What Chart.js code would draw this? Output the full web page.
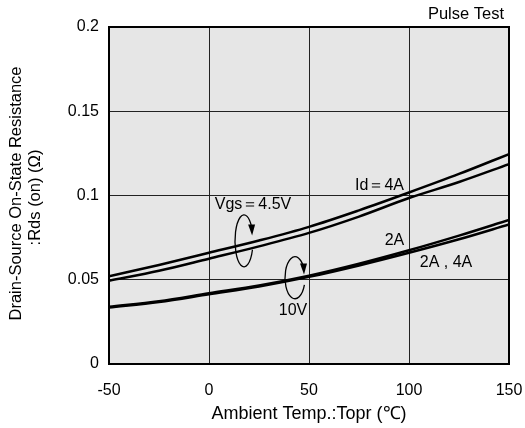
<!DOCTYPE html>
<html>
<head>
<meta charset="utf-8">
<script src="https://cdn.jsdelivr.net/npm/chart.js@4.4.0/dist/chart.umd.min.js"></script>
<style>
html,body{margin:0;padding:0;background:#fff;}
#wrap{width:525px;height:428px;position:relative;}
</style>
</head>
<body>
<div id="wrap"><canvas id="c" width="525" height="428"></canvas></div>
<script>
// Data
const temps = [-50, -25, 0, 25, 50, 75, 100, 125, 150];
const vgs45_id4 = [0.052, 0.0588, 0.066, 0.0733, 0.0814, 0.0912, 0.1018, 0.1128, 0.1246];
const vgs45_id2 = [0.0494, 0.0553, 0.0625, 0.0698, 0.0778, 0.0875, 0.0985, 0.108, 0.1186];
const vgs10_id2 = [0.034, 0.0373, 0.042, 0.0466, 0.0524, 0.0595, 0.0675, 0.0762, 0.0855];
const vgs10_id4 = [0.0335, 0.0368, 0.0414, 0.046, 0.0517, 0.0585, 0.066, 0.074, 0.0828];
const xTicks = [-50, 0, 50, 100, 150];
const yTicks = [0, 0.05, 0.1, 0.15, 0.2];
const yTickLabels = ['0', '0.05', '0.1', '0.15', '0.2'];
const xTitle = 'Ambient Temp.:Topr (\u2103)';
const yTitle = ['Drain-Source On-State Resistance', ':Rds (on) (\u03A9)'];

// annotations in data units
const labels = [
  {text: 'Id\uFF1D4A', x: 85.25, y: 0.1056},
  {text: 'Vgs\uFF1D4.5V', x: 22, y: 0.0944},
  {text: '2A', x: 92.75, y: 0.073},
  {text: '2A , 4A', x: 118.5, y: 0.060},
  {text: '10V', x: 42, y: 0.0317}
];
const arrows = [
  {x: 17.5, y: 0.0731, rx: 9, ry: 26},
  {x: 43, y: 0.0512, rx: 10, ry: 21}
];

const FONT = '"Liberation Sans", Arial, Helvetica, sans-serif';

function mk(data) {
  return {data: temps.map((t, i) => ({x: t, y: data[i]})), borderColor: '#000', borderWidth: 2.5,
    pointRadius: 0, cubicInterpolationMode: 'monotone', fill: false};
}

const deco = {
  id: 'deco',
  beforeDraw(chart) {
    const a = chart.chartArea, ctx = chart.ctx;
    ctx.save();
    ctx.fillStyle = '#e6e6e6';
    ctx.fillRect(a.left, a.top, a.right - a.left, a.bottom - a.top);
    ctx.restore();
  },
  afterDraw(chart) {
    const a = chart.chartArea, ctx = chart.ctx;
    const xs = chart.scales.x, ys = chart.scales.y;
    ctx.save();
    ctx.strokeStyle = '#000';
    ctx.lineWidth = 2;
    ctx.strokeRect(a.left, a.top, a.right - a.left, a.bottom - a.top);
    ctx.fillStyle = '#000';
    ctx.font = '16px ' + FONT;
    ctx.textAlign = 'center';
    ctx.textBaseline = 'middle';
    labels.forEach(l => ctx.fillText(l.text, xs.getPixelForValue(l.x), ys.getPixelForValue(l.y)));
    ctx.textAlign = 'right';
    ctx.font = '16.5px ' + FONT;
    ctx.fillText('Pulse Test', a.right - 5, a.top - 13);
    // y axis title (two lines, rotated)
    ctx.save();
    ctx.font = '16.5px ' + FONT;
    ctx.textAlign = 'center';
    ctx.translate(0, (a.top + a.bottom) / 2 - 2);
    ctx.rotate(-Math.PI / 2);
    ctx.fillText(yTitle[0], 0, 16);
    ctx.fillText(yTitle[1], -4, 35);
    ctx.restore();
    // rotating arrows
    ctx.lineWidth = 1.3;
    arrows.forEach(ar => {
      const cx = xs.getPixelForValue(ar.x), cy = ys.getPixelForValue(ar.y);
      const endA = -0.45 + Math.PI * 2, startA = 0.35;
      ctx.beginPath();
      ctx.ellipse(cx, cy, ar.rx, ar.ry, 0, startA, endA - 0.15);
      ctx.stroke();
      const tx = cx + ar.rx * Math.cos(endA), ty = cy + ar.ry * Math.sin(endA) + 6;
      ctx.beginPath();
      ctx.moveTo(tx, ty);
      ctx.lineTo(tx - 4, ty - 11);
      ctx.lineTo(tx + 3, ty - 11);
      ctx.closePath();
      ctx.fill();
    });
    ctx.restore();
  }
};

new Chart(document.getElementById('c'), {
  type: 'line',
  data: {datasets: [mk(vgs45_id4), mk(vgs45_id2), mk(vgs10_id2), mk(vgs10_id4)]},
  options: {
    responsive: false,
    animation: false,
    devicePixelRatio: 1,
    layout: {padding: {top: 27, right: 16, left: 0, bottom: 0}},
    plugins: {legend: {display: false}, tooltip: {enabled: false}},
    scales: {
      x: {
        type: 'linear', min: -50, max: 150,
        afterBuildTicks: s => { s.ticks = xTicks.map(v => ({value: v})); },
        afterFit: s => { s.height = 64; s.paddingLeft = 0; s.paddingRight = 0; },
        grid: {color: '#222', lineWidth: 1, drawTicks: false},
        border: {display: false},
        ticks: {color: '#000', font: {size: 16, family: FONT}, padding: 17, maxRotation: 0},
        title: {display: true, text: xTitle, color: '#000', font: {size: 18, family: FONT}, padding: {top: 2, bottom: 3}}
      },
      y: {
        type: 'linear', min: 0, max: 0.2,
        afterBuildTicks: s => { s.ticks = yTicks.map(v => ({value: v})); },
        afterFit: s => { s.width = 109; s.paddingTop = 0; s.paddingBottom = 0; },
        grid: {color: '#222', lineWidth: 1, drawTicks: false},
        border: {display: false},
        ticks: {color: '#000', font: {size: 16, family: FONT}, padding: 10,
          callback: (v) => { const i = yTicks.findIndex(t => Math.abs(t - v) < 1e-9); return i >= 0 ? yTickLabels[i] : ''; }},
        title: {display: false}
      }
    }
  },
  plugins: [deco]
});
</script>
</body>
</html>
